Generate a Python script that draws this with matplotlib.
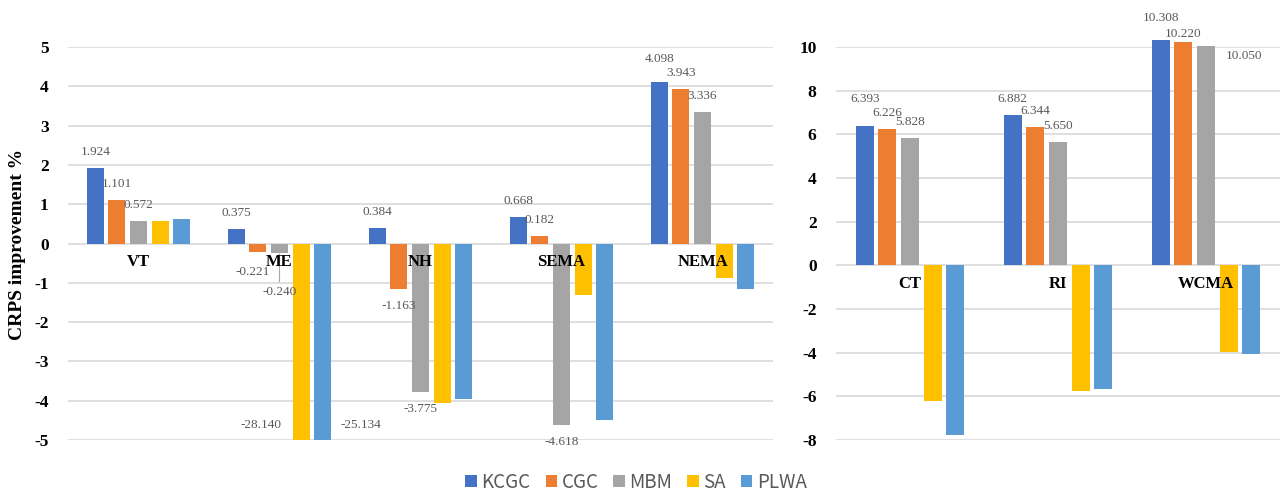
import matplotlib
matplotlib.use("Agg")
import numpy as np
import matplotlib.pyplot as plt
from matplotlib.patches import Patch

plt.rcParams["axes.unicode_minus"] = False

series = ["KCGC", "CGC", "MBM", "SA", "PLWA"]
colors = ["#4472C4", "#ED7D31", "#A5A5A5", "#FFC000", "#5B9BD5"]

# northern / eastern regions (small scale)
left_regions = ["VT", "ME", "NH", "SEMA", "NEMA"]
left_kcgc = [1.924, 0.375, 0.384, 0.668, 4.098]
left_cgc = [1.101, -0.221, -1.163, 0.182, 3.943]
left_mbm = [0.572, -0.240, -3.775, -4.618, 3.336]
left_sa = [0.58, -28.140, -4.06, -1.32, -0.885]
left_plwa = [0.62, -25.134, -3.95, -4.50, -1.15]

# southern regions (larger scale)
right_regions = ["CT", "RI", "WCMA"]
right_kcgc = [6.393, 6.882, 10.308]
right_cgc = [6.226, 6.344, 10.220]
right_mbm = [5.828, 5.650, 10.050]
right_sa = [-6.22, -5.75, -3.99]
right_plwa = [-7.78, -5.67, -4.04]

SERIF = "Liberation Serif"
LABEL_GRAY = "#595959"
PX = 72 / 100  # pixels -> points at dpi 100

# hand-placed value labels: (dx px, dy px, leader line)
left_moves = {
    ("NEMA", "KCGC"): (0, 23, False),
    ("ME", "CGC"): (-5, -20, False),
    ("ME", "MBM"): (0, -39, True),
    ("ME", "SA"): (-40, 15, False),
    ("ME", "PLWA"): (38, 15, False),
}
right_moves = {
    ("CT", "KCGC"): (0, 27, False),
    ("WCMA", "KCGC"): (0, 22, False),
    ("WCMA", "CGC"): (0, 8, False),
    ("WCMA", "MBM"): (38, -10, False),
}


def draw_panel(ax, regions, values, ylim, yticks, moves, clip_bars):
    x = np.arange(len(regions))
    slot, width = 0.153, 0.121
    for i, (name, vals, col) in enumerate(zip(series, values, colors)):
        xs = x + (i - 2) * slot
        ax.bar(xs, vals, width, color=col, zorder=2, clip_on=clip_bars)
        for xi, v, reg in zip(xs, vals, regions):
            clipped = v < ylim[0]
            if i > 2 and not clipped:
                continue
            dx, dy, leader = moves.get((reg, name), (0, 16 if v > 0 else -17, False))
            anchor = ylim[0] if clipped else v
            kw = {}
            if leader:
                kw["arrowprops"] = dict(arrowstyle="-", color="#a6a6a6", lw=0.8,
                                        shrinkA=1, shrinkB=1)
            ax.annotate(f"{v:.3f}", xy=(xi, anchor), xytext=(dx * PX, dy * PX),
                        textcoords="offset points", ha="center", va="center",
                        fontsize=9.5, family=SERIF, color=LABEL_GRAY,
                        annotation_clip=False, zorder=4, **kw)
    for xi, reg in zip(x, regions):
        ax.annotate(reg, xy=(xi, 0), xytext=(0, -19 * PX), textcoords="offset points",
                    ha="center", va="center", fontsize=12, fontweight="bold",
                    family=SERIF, color="black", annotation_clip=False, zorder=5)
    ax.set_xlim(-0.5, len(regions) - 0.5)
    ax.set_ylim(*ylim)
    ax.set_yticks(yticks)
    ax.set_xticks([])
    ax.yaxis.grid(True, color="#d9d9d9", lw=1.2, zorder=0)
    ax.set_axisbelow(True)
    for s in ax.spines.values():
        s.set_visible(False)
    ax.tick_params(axis="y", length=0, pad=14)
    for t in ax.get_yticklabels():
        t.set_fontfamily(SERIF)
        t.set_fontweight("bold")
        t.set_fontsize(12.5)


fig = plt.figure(figsize=(12.82, 4.96), dpi=100)
W, H = 1282, 496
ax1 = fig.add_axes([68 / W, 56 / H, 705 / W, 393 / H])
ax2 = fig.add_axes([836 / W, 56 / H, 444 / W, 393 / H])

draw_panel(ax1, left_regions, [left_kcgc, left_cgc, left_mbm, left_sa, left_plwa],
           (-5, 5), range(-5, 6), left_moves, True)
draw_panel(ax2, right_regions, [right_kcgc, right_cgc, right_mbm, right_sa, right_plwa],
           (-8, 10), range(-8, 11, 2), right_moves, False)

fig.text(18 / W, 1 - 244 / H, "CRPS improvement %", rotation=90, ha="center",
         va="center", family=SERIF, fontweight="bold", fontsize=14)

handles = [Patch(facecolor=c, edgecolor="none") for c in colors]
leg = fig.legend(handles, series, loc="center", bbox_to_anchor=(636 / W, 14 / H),
                 ncol=5, frameon=False, handlelength=0.6, handleheight=0.6,
                 handletextpad=0.25, columnspacing=0.8,
                 prop={"family": "Noto Sans CJK SC", "size": 13.5})
for t in leg.get_texts():
    t.set_color(LABEL_GRAY)

fig.savefig("out.png", dpi=100)
